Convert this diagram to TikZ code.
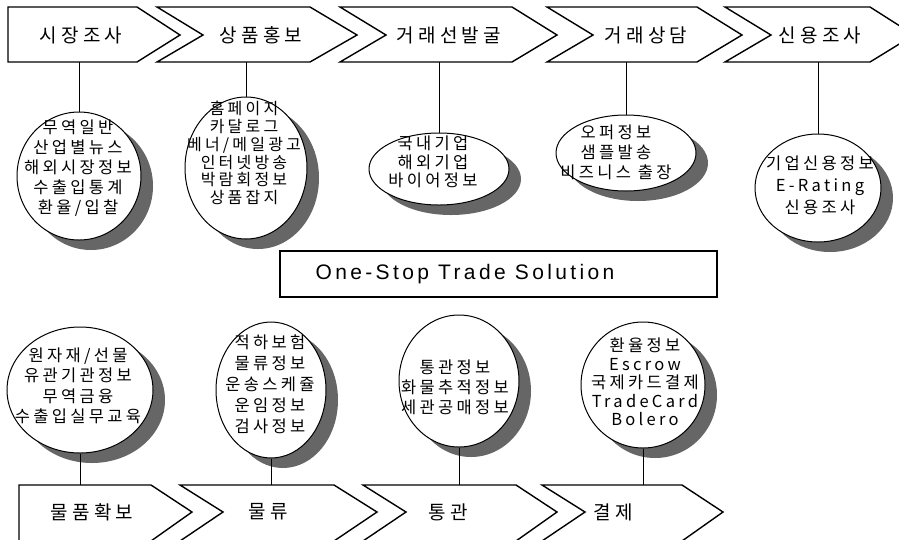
\documentclass[tikz,border=0pt]{standalone}
\usepackage{fontspec}
\usetikzlibrary{shapes.geometric}
\newfontfamily\krhead[LetterSpace=22]{Noto Sans CJK KR}
\newfontfamily\krbody[LetterSpace=20]{Noto Sans CJK KR}
\newfontfamily\latinhead[LetterSpace=16]{Liberation Sans}
\tikzset{
  chev/.style={draw=black, line width=1.4pt, fill=white, line join=miter},
  chevtext/.style={font=\fontsize{19}{19}\selectfont\krhead, inner sep=0},
  bubble/.style={ellipse, draw=black, line width=1pt, fill=white, inner sep=0},
  bubtext/.style={align=center, inner sep=0, font=\fontsize{16.5}{#1}\selectfont\krbody},
  shadowfill/.style={fill=black!60},
  link/.style={draw=black, line width=1pt},
  titlebox/.style={draw=black, line width=1.2pt, fill=white},
}
% name, cx, cy, rx, ry
\newcommand\mybub[5]{%
  \fill[shadowfill] ({#2+12},{#3+10}) ellipse [x radius=#4pt, y radius=#5pt];
  \node[bubble, minimum width={2*#4pt}, minimum height={2*#5pt}] (#1) at (#2,#3) {};
}
% left, notch, topright, tip, top, mid, bottom
\newcommand\mychev[7]{%
  \path[chev] (#1,#5) -- (#3,#5) -- (#4,#6) -- (#3,#7) -- (#1,#7) -- (#2,#6) -- cycle;
}
\begin{document}
\begin{tikzpicture}[x=1pt, y=-1pt]
\useasboundingbox (0,0) rectangle (899,539);
\clip (0,0) rectangle (899,539);
\fill[white] (0,0) rectangle (899,539);

% ---------- top row chevrons ----------
\mychev{8}{8}{137}{180}{7}{35}{62}
\mychev{157}{203}{310}{357}{7}{35}{62}
\mychev{340}{386}{512}{557}{7}{35}{62}
\mychev{547}{593}{697}{742}{7}{35}{62}
\mychev{725}{771}{870}{914}{7}{35}{62}
\node[chevtext] (t1) at (81,35) {시장조사};
\node[chevtext] (t2) at (261,35) {상품홍보};
\node[chevtext] (t3) at (449,35) {거래선발굴};
\node[chevtext] (t4) at (646,35) {거래상담};
\node[chevtext] (t5) at (820,35) {신용조사};

% ---------- bottom row chevrons ----------
\mychev{19}{19}{151}{192}{485}{512}{541}
\mychev{180}{223}{334}{377}{485}{512}{541}
\mychev{363}{406}{516}{557}{485}{512}{541}
\mychev{542}{585}{682}{723}{485}{512}{541}
\node[chevtext] (u1) at (92,512) {물품확보};
\node[chevtext] (u2) at (268,512) {물류};
\node[chevtext] (u3) at (448,512) {통관};
\node[chevtext] (u4) at (613,512) {결제};

% ---------- title box ----------
\draw[titlebox] (280,251) rectangle (717,297);
\node[font=\fontsize{21}{21}\selectfont\latinhead, inner sep=0] (title) at (465,274) {One-Stop Trade Solution};

% ---------- top bubbles ----------
\coordinate (t1s) at (79,62);
\coordinate (t2s) at (246,62);
\coordinate (t3s) at (439,62);
\coordinate (t4s) at (626,62);
\coordinate (t5s) at (818,62);

\mybub{e1}{79}{176}{62}{64}
\mybub{e2}{246}{168}{61}{71}
\mybub{e3}{439}{169}{70}{36}
\mybub{e4}{626}{153}{70}{38}
\mybub{e5}{818}{188}{63}{54}
\draw[link] (t1s) -- (e1.north);
\draw[link] (t2s) -- (e2.north);
\draw[link] (t3s) -- (e3.north);
\draw[link] (t4s) -- (e4.north);
\draw[link] (t5s) -- (e5.north);

\node[bubtext=20] (x1) at (78,168) {무역일반\\산업별뉴스\\해외시장정보\\수출입통계\\환율/입찰};
\node[bubtext=17.8, font=\fontsize{16}{17.8}\selectfont\krbody] (x2) at (244,153) {홈페이지\\카달로그\\베너/메일광고\\인터넷방송\\박람회정보\\상품잡지};
\node[bubtext=18.8] (x3) at (433,162) {국내기업\\해외기업\\바이어정보};
\node[bubtext=20] (x4) at (616,152) {오퍼정보\\샘플발송\\비즈니스 출장};
\node[bubtext=22] (x5) at (820,185) {기업신용정보\\E-Rating\\신용조사};

% ---------- bottom bubbles ----------
\coordinate (u1s) at (80,485);
\coordinate (u2s) at (271,485);
\coordinate (u3s) at (459,485);
\coordinate (u4s) at (643,485);

\mybub{f1}{80}{390}{73}{63}
\mybub{f2}{271}{390}{55}{68}
\mybub{f3}{459}{381}{60}{66}
\mybub{f4}{643}{385}{62}{63}
\draw[link] (f1.south) -- (u1s);
\draw[link] (f2.south) -- (u2s);
\draw[link] (f3.south) -- (u3s);
\draw[link] (f4.south) -- (u4s);

\node[bubtext=20.5] (y1) at (78,386) {원자재/선물\\유관기관정보\\무역금융\\수출입실무교육};
\node[bubtext=21] (y2) at (270,384) {적하보험\\물류정보\\운송스케쥴\\운임정보\\검사정보};
\node[bubtext=20] (y3) at (455,387) {통관정보\\화물추적정보\\세관공매정보};
\node[bubtext=18.5] (y4) at (645,382) {환율정보\\Escrow\\국제카드결제\\TradeCard\\Bolero};
\end{tikzpicture}
\end{document}
